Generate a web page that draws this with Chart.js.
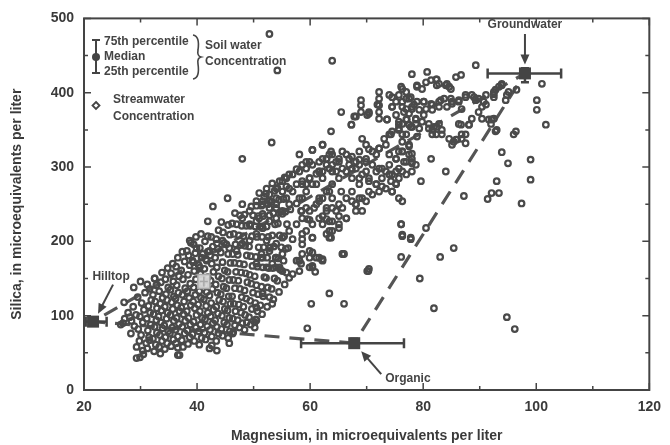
<!DOCTYPE html>
<html><head><meta charset="utf-8">
<script src="https://cdn.jsdelivr.net/npm/chart.js@4.4.1/dist/chart.umd.min.js"></script>
<style>html,body{margin:0;padding:0;background:#fff;}#wrap{width:670px;height:445px;position:relative;}</style>
</head><body><div id="wrap"><canvas id="c" width="670" height="445"></canvas></div>
<script>
// ---------- DATA ----------
const xTickValues = [20, 40, 60, 80, 100, 120];
const yTickValues = [0, 100, 200, 300, 400, 500];
const xTitle = 'Magnesium, in microequivalents per liter';
const yTitle = 'Silica, in microequivalents per liter';

// soil-water end members (median and 25th/75th percentiles)
const endMembers = ['Hilltop', 'Groundwater', 'Organic'];
const endMg      = [21.6, 98.0, 67.8];
const endMgLow   = [20.3, 91.4, 58.4];
const endMgHigh  = [24.0, 104.4, 76.6];
const endSi      = [92, 426, 63];
const endSiLow   = [88, 414, 58];
const endSiHigh  = [97, 433, 69];
const mixingOrder = [2, 0, 1, 2]; // Organic -> Hilltop -> Groundwater -> Organic
const lightMarker = [41.2, 146];

// streamwater concentrations [Mg, Si]
const streamLowerCluster = [
[26.5,88],[27.2,96],[27.8,104],[27.1,118],[28.3,76],[28.9,86],[28.4,93],[29.2,101],[28.7,112],[29.5,125],[28.8,138],
[29.3,58],[29.8,66],[30.1,74],[29.6,82],[30.4,91],[29.9,99],[30.6,108],[30.2,117],[30.8,131],[30.0,146],
[30.5,48],[31.2,56],[31.0,63],[31.5,71],[31.3,80],[31.8,88],[31.1,96],[31.7,104],[31.4,113],[31.9,121],[31.6,136],[31.2,142],
[32.4,52],[32.7,61],[32.2,69],[32.9,77],[32.5,85],[32.8,94],[32.3,102],[32.9,110],[32.6,119],[32.2,128],[32.8,141],[32.5,150],
[33.5,49],[33.3,58],[33.8,66],[33.4,74],[33.9,83],[33.6,91],[33.2,99],[33.7,107],[33.5,116],[33.9,124],[33.3,133],[33.6,145],[33.8,158],
[34.3,55],[34.7,63],[34.4,71],[34.9,79],[34.2,87],[34.6,96],[34.8,104],[34.3,112],[34.7,121],[34.5,129],[34.9,138],[34.4,149],[34.8,164],
[35.4,59],[35.8,68],[35.2,76],[35.6,84],[35.9,93],[35.3,101],[35.7,109],[35.5,118],[35.9,126],[35.3,135],[35.8,146],[35.4,157],[35.7,170],
[36.3,63],[36.6,72],[36.2,81],[36.8,89],[36.4,97],[36.9,106],[36.5,114],[36.2,123],[36.7,131],[36.4,141],[36.8,153],[36.3,166],[36.6,178],
[37.5,58],[37.3,67],[37.8,76],[37.4,85],[37.9,93],[37.6,102],[37.2,111],[37.7,119],[37.4,128],[37.9,137],[37.5,149],[37.2,161],[37.8,173],[37.4,186],
[38.4,62],[38.7,71],[38.3,80],[38.8,88],[38.5,97],[38.2,106],[38.9,114],[38.6,124],[38.3,133],[38.8,143],[38.4,155],[38.7,168],[38.5,181],[38.9,198],
[39.5,66],[39.2,75],[39.8,84],[39.4,92],[39.9,101],[39.6,110],[39.3,119],[39.7,128],[39.4,138],[39.8,149],[39.5,160],[39.3,172],[39.7,184],[39.4,196],[39.8,206],
[40.4,61],[40.8,70],[40.3,79],[40.6,88],[40.9,97],[40.5,106],[40.2,115],[40.7,124],[40.4,133],[40.9,143],[40.6,156],[40.3,168],[40.8,178],[40.5,191],[40.7,210],
[41.5,68],[41.3,77],[41.8,86],[41.4,95],[41.9,104],[41.6,113],[41.2,122],[41.7,132],[41.5,141],[41.9,152],[41.3,163],[41.6,176],[41.9,186],[41.4,200],
[42.6,72],[42.3,81],[42.8,90],[42.4,99],[42.9,108],[42.5,117],[42.2,127],[42.7,136],[42.4,147],[42.9,159],[42.6,170],[42.3,181],[42.8,193],[42.5,206],
[43.4,66],[43.8,76],[43.5,85],[43.2,94],[43.7,103],[43.4,112],[43.9,121],[43.6,131],[43.3,142],[43.8,153],[43.5,165],[43.2,178],[43.7,190],[43.4,203],[43.8,215],
[44.5,73],[44.3,82],[44.8,91],[44.4,100],[44.9,109],[44.6,119],[44.2,129],[44.7,139],[44.4,150],[44.9,161],[44.5,172],[44.2,185],[44.8,198],[44.6,212],[44.3,226],
[45.5,70],[45.8,79],[45.3,88],[45.7,97],[45.4,107],[45.9,116],[45.6,126],[45.2,137],[45.7,148],[45.4,159],[45.9,171],[45.5,183],[45.2,196],[45.8,209],[45.5,222],
[46.4,78],[46.7,87],[46.3,96],[46.8,106],[46.5,116],[46.2,126],[46.7,137],[46.4,148],[46.9,159],[46.6,171],[46.3,183],[46.8,196],[46.5,210],[46.2,224],[46.7,238],
[47.5,84],[47.2,94],[47.8,104],[47.4,115],[47.9,125],[47.6,136],[47.3,147],[47.8,158],[47.5,170],[47.2,182],[47.7,195],[47.4,208],[47.9,221],[47.6,235],
[48.4,81],[48.8,91],[48.5,101],[48.2,112],[48.7,123],[48.4,134],[48.9,145],[48.6,157],[48.3,169],[48.8,181],[48.5,194],[48.2,207],[48.7,221],[48.4,236],
[49.5,88],[49.2,98],[49.7,109],[49.4,120],[49.9,131],[49.6,143],[49.3,155],[49.8,167],[49.5,180],[49.2,193],[49.7,207],[49.4,221],[49.9,235],[49.6,247],
[50.4,95],[50.7,106],[50.3,117],[50.8,129],[50.5,141],[50.2,153],[50.7,166],[50.4,179],[50.9,192],[50.6,206],[50.3,220],[50.8,234],[50.5,248],
[51.5,102],[51.2,114],[51.7,126],[51.4,139],[51.9,152],[51.6,165],[51.3,178],[51.8,192],[51.5,206],[51.2,220],[51.7,234],[51.4,248],[51.9,260],
[52.4,112],[52.8,125],[52.5,138],[52.2,151],[52.7,164],[52.4,178],[52.9,192],[52.6,206],[52.3,220],[52.8,235],[52.5,250],[52.2,264],
[53.5,122],[53.2,136],[53.7,150],[53.4,164],[53.9,178],[53.6,193],[53.3,208],[53.8,223],[53.5,238],[53.2,253],[53.7,268],
[54.5,132],[54.2,147],[54.7,162],[54.4,177],[54.9,192],[54.6,208],[54.3,224],[54.8,240],[54.5,256],[54.2,272],
[55.5,142],[55.8,158],[55.3,174],[55.7,190],[55.4,207],[55.9,223],[55.6,240],[55.3,257],[55.8,274],[55.5,286]
];
const streamMidBand = [
[69.2,338],[69.9,330],[68.7,321],[70.4,324],[71.7,317],[72.2,325],[73.4,330],[74.0,317],[75.2,311],[76.3,321],[77.0,307],[78.0,311],[78.7,303],[75.7,298],[74.5,290],[73.4,294],[72.2,298],[71.0,303],[69.9,307],[68.7,310],[67.4,314],[66.4,317],[65.1,311],[63.9,317],[62.9,311],[61.6,307],[60.4,303],[59.3,298],[58.1,294],[56.9,290],[55.8,285],[54.6,281],[53.3,278],[52.3,271],[51.0,265],[65.7,298],[64.6,294],[63.4,298],[62.2,294],[61.1,291],[59.9,285],[58.6,281],[57.6,277],[56.3,271],[55.1,267],[54.0,258],[52.8,254],[51.6,250],[66.9,303],[68.1,298],[69.2,290],[70.4,281],[71.7,277],[72.7,274],[74.3,281],[75.2,277],[74.5,267],[75.7,285],[77.0,290],[78.0,294],
[61.6,254],[62.9,245],[62.2,234],[63.4,227],[63.9,214],[64.6,241],[65.7,245],[66.4,231],[67.4,254],[68.7,258],[69.2,241],[68.1,250],[65.1,218],[62.9,210],[60.4,205],[58.6,210],[56.9,203],[56.1,191],[55.1,183],[54.0,178],[53.3,170],[52.3,165],[54.6,165],[56.9,156],[59.9,165],[59.9,178],[61.6,178],[58.1,174],[65.8,183],[70.4,163],[76.1,223],[76.3,207],[77.8,205],[75.7,258],[76.3,254],[51.0,231],[51.6,218],[52.3,201],[52.8,191],[51.4,183],[59.9,229],[58.5,241],[57.6,251],[56.5,243],[55.1,237],[54.0,245],
[71.9,384],[73.6,364],[74.5,381],[77.0,378],[78.0,378],[78.7,365],[77.8,354],[75.7,357],[76.3,344],[74.3,344],[73.1,338],[67.3,357],[68.1,368],[70.1,370],[70.4,374],[65.5,374],[63.7,348],[62.2,330],[60.4,323],[58.1,317],[53.2,333],
[60.4,323],[62.2,330],[63.7,321],[65.7,321],[66.9,311],[68.1,307],[69.9,311],[71.0,321],[72.2,325],[74.0,344],[74.5,348],[75.7,350],[77.0,344],[77.5,330],[76.3,321],[75.2,311],[74.0,303],[72.7,298],[71.7,294],[70.4,285],[68.7,277],[67.4,267],[66.4,258],[65.1,250],[63.9,245],[62.9,241],[61.6,231],[60.4,223],[59.3,214],[62.2,223],[63.4,214],[65.1,223],[66.4,231],[68.1,250],[69.2,258],[70.4,267],[71.7,277],[72.7,285],[74.0,290],[75.2,294],[59.5,230],[60.4,205],[62.2,176],[65.7,183],[70.1,160],[58.4,170],[60.4,165],[58.6,196],[63.4,205],[77.5,317],[78.0,307],[75.2,278],[74.5,267],[73.4,271],[72.2,267],[71.0,263],[69.9,254],[68.1,241],[65.1,234],[63.9,227],[62.9,230],[60.7,245],[61.6,258],[62.9,267],[63.9,277],[65.1,285],[66.4,294],[67.4,298],[68.7,303],[61.6,294],[59.3,277],[58.6,258],[58.4,241],[59.3,245],[60.4,277],[62.9,311],[63.9,303],[65.1,307],[67.4,285],[68.7,285],[69.9,294],[63.9,258],[65.5,267],[59.3,307]
];
const streamBandEdge = [
[48.0,250],[49.3,241],[50.5,254],[51.6,254],[52.8,263],[54.0,271],[55.1,281],[56.3,290],[57.6,297],[58.6,303],[59.9,307],[62.2,311],[63.4,317],[64.6,307],[63.9,294],[62.2,285],[61.1,277],[59.3,267],[58.1,258],[56.3,250],[55.1,241],[54.0,231],[52.8,227],[51.6,218],[50.5,210],[49.3,201],[48.0,197],[47.0,187],[45.7,191],[44.5,201],[43.5,197],[42.2,187],[41.0,183],[39.9,191],[38.7,201],[38.2,187],[39.2,174],[40.5,165],[41.7,174],[48.0,231],[47.0,223],[49.3,223],[50.5,227],[51.6,237],[52.8,245],[54.0,250],[55.8,258],[56.9,267],[58.6,277],[59.9,285],[61.6,294],[62.9,303],[63.4,267],[62.2,258],[61.1,250],[59.9,241],[58.6,231],[57.6,223],[56.3,214],[55.1,205],[54.0,197],[52.8,187],[51.6,178],[50.5,170],
[54.0,165],[55.1,160],[56.3,151],[57.6,174],[58.6,183],[59.9,187],[61.1,178],[62.2,174],[51.6,130],[50.5,111],[50.5,94],[48.0,90],[46.3,76],[45.7,63],[42.2,56],[36.6,57],[36.6,47],[29.3,43],[30.4,53],[31.6,67],[26.9,90],[28.1,98]
];
const streamUpperBand = [
[76.1,408],[77.0,401],[75.7,397],[74.5,394],[74.0,397],[77.5,392],[76.3,388],[75.2,388],[78.4,384],[78.9,388],[80.1,388],[80.5,378],[81.6,384],[82.8,388],[83.7,392],[84.2,381],[85.1,388],[86.3,388],[86.8,378],[87.5,397],[88.6,397],[89.8,392],[91.1,397],[90.7,388],[92.5,401],[93.9,410],[95.1,401],[96.5,404],
[78.0,425],[80.7,428],[82.3,418],[80.5,414],[78.9,410],[82.4,410],[84.0,410],[85.8,421],[86.7,424],[84.9,405],[89.3,437],
[72.2,401],[72.2,392],[72.2,383],[72.2,374],[72.2,365],[69.0,390],[69.0,383],[69.0,374],[70.4,372],[67.8,368],[67.3,357],[73.6,364],[74.5,381],
[75.2,370],[75.7,361],[77.0,364],[77.5,357],[78.7,358],[79.8,361],[81.0,358],[81.6,350],[82.4,354],[83.3,344],[82.3,344],[84.6,338],[85.8,337],[86.8,344],[87.5,332],[85.1,330],[86.3,358],[88.1,357],[88.6,365],[90.4,365],[92.1,364],[92.0,358],[92.8,348],
[76.3,405],[77.0,392],[76.3,381],[78.0,381],[77.8,394],[77.5,372],[76.6,374],[79.3,377],[80.1,388],[81.4,385],[83.1,390],[82.8,381],[81.6,377],[80.1,370],[78.7,364],[79.3,352],[78.0,354],[77.1,364],[76.3,358],[75.7,352],[78.9,341],[77.5,328],[76.3,334],[75.7,321],[76.6,307],[78.0,305],[76.3,294],[78.0,318],[82.8,358],[83.3,350],[81.9,354],[81.0,352],[81.6,344],
[90.4,381],[89.8,374],[91.1,384],[89.3,390],[89.0,394],[87.5,394],[86.3,390],[84.9,392],[85.1,385],[86.7,357],[88.1,357],[87.5,344],[86.8,338],[86.0,337],[85.4,334],[92.5,365],[91.6,364],[93.0,350],[94.6,390],[94.8,397],[93.4,408],[93.9,412],[92.8,404],[92.5,398],[92.5,394],[96.4,348],[81.4,417],[82.4,418],[82.8,412],[78.9,408],[79.8,405],[84.6,408],[84.2,412]
];
const streamScattered = [
[52.8,479],[54.2,430],[63.9,443],[101.0,412],[100.1,390],[100.1,377],[101.7,357],[99.0,310],[99.0,283],[97.4,251],[93.0,281],[92.1,265],[93.4,265],[91.4,257],[93.9,320],[95.0,305],[96.0,344],[81.4,311],[84.0,294],[87.2,261],[79.6,281],[80.5,218],[76.1,223],[85.4,191],[83.0,179],[79.4,150],[81.9,110],[94.8,98],[96.2,82],[76.1,179],[70.3,160],[66.0,183],[63.4,130],[66.0,116],[60.2,116],[59.5,83],[48.0,311],[45.4,258],[42.8,247],[41.9,227],[41.9,207],[32.5,150],[53.3,116],[50.2,91],[50.2,84],[36.9,47],[42.6,60],[43.5,53],[29.9,44],[58.6,203],[60.4,185],[63.7,205],[76.3,209],[77.8,203],[58.1,174],[58.1,160],[62.1,175],[60.9,159],[60.4,167]
];

// ---------- DRAWING ----------
const INK = '#444444';
const FONT = '"Liberation Sans", Arial, Helvetica, sans-serif';
const toPts = arr => arr.map(p => ({x: p[0], y: p[1]}));
const allStream = [].concat(streamLowerCluster, streamMidBand, streamBandEdge, streamUpperBand, streamScattered);

function arrow(ctx, x1, y1, x2, y2) {
  const a = Math.atan2(y2 - y1, x2 - x1), L = 10, W = 4.5;
  ctx.beginPath(); ctx.moveTo(x1, y1);
  ctx.lineTo(x2 - Math.cos(a) * L * 0.8, y2 - Math.sin(a) * L * 0.8); ctx.stroke();
  ctx.beginPath(); ctx.moveTo(x2, y2);
  ctx.lineTo(x2 - L * Math.cos(a) + W * Math.sin(a), y2 - L * Math.sin(a) - W * Math.cos(a));
  ctx.lineTo(x2 - L * Math.cos(a) - W * Math.sin(a), y2 - L * Math.sin(a) + W * Math.cos(a));
  ctx.closePath(); ctx.fill();
}

const framePlugin = {
  id: 'frame',
  afterDatasetsDraw(chart) {
    const ctx = chart.ctx, xs = chart.scales.x, ys = chart.scales.y, a = chart.chartArea;
    ctx.save();
    // light soil marker
    const lx = xs.getPixelForValue(lightMarker[0]), ly = ys.getPixelForValue(lightMarker[1]);
    ctx.fillStyle = 'rgba(215,215,215,0.95)'; ctx.strokeStyle = '#a8a8a8'; ctx.lineWidth = 1.5;
    ctx.fillRect(lx - 6, ly - 7, 12, 14); ctx.strokeRect(lx - 6, ly - 7, 12, 14);
    ctx.beginPath(); ctx.moveTo(lx - 4, ly); ctx.lineTo(lx + 4, ly); ctx.moveTo(lx, ly - 5); ctx.lineTo(lx, ly + 5); ctx.stroke();
    ctx.strokeStyle = INK; ctx.fillStyle = INK;
    // end members with percentile bars
    for (let i = 0; i < endMembers.length; i++) {
      const px = xs.getPixelForValue(endMg[i]), py = ys.getPixelForValue(endSi[i]);
      const xl = xs.getPixelForValue(endMgLow[i]), xh = xs.getPixelForValue(endMgHigh[i]);
      const yl = ys.getPixelForValue(endSiLow[i]), yh = ys.getPixelForValue(endSiHigh[i]);
      ctx.lineWidth = 2.5;
      ctx.beginPath(); ctx.moveTo(xl, py); ctx.lineTo(xh, py); ctx.stroke();
      ctx.beginPath(); ctx.moveTo(xl, py - 5); ctx.lineTo(xl, py + 5); ctx.moveTo(xh, py - 5); ctx.lineTo(xh, py + 5); ctx.stroke();
      ctx.beginPath(); ctx.moveTo(px, yl); ctx.lineTo(px, yh); ctx.stroke();
      ctx.beginPath(); ctx.moveTo(px - 4, yl); ctx.lineTo(px + 4, yl); ctx.moveTo(px - 4, yh); ctx.lineTo(px + 4, yh); ctx.stroke();
      ctx.fillRect(px - 6, py - 6, 12, 12);
    }
    // frame
    ctx.lineWidth = 2;
    ctx.strokeRect(a.left, a.top, a.right - a.left, a.bottom - a.top);
    ctx.lineWidth = 1.5;
    ctx.beginPath();
    for (let v = 20; v <= 120; v += 10) {
      const p = xs.getPixelForValue(v), len = v % 20 === 0 ? 7 : 4;
      ctx.moveTo(p, a.bottom); ctx.lineTo(p, a.bottom - len);
      ctx.moveTo(p, a.top); ctx.lineTo(p, a.top + len);
    }
    for (let v = 0; v <= 500; v += 50) {
      const p = ys.getPixelForValue(v), len = v % 100 === 0 ? 7 : 4;
      ctx.moveTo(a.left, p); ctx.lineTo(a.left + len, p);
      ctx.moveTo(a.right, p); ctx.lineTo(a.right - len, p);
    }
    ctx.stroke();
    // annotations
    const gx = xs.getPixelForValue(endMg[1]), gy = ys.getPixelForValue(endSi[1]);
    const hx = xs.getPixelForValue(endMg[0]), hy = ys.getPixelForValue(endSi[0]);
    const ox = xs.getPixelForValue(endMg[2]), oy = ys.getPixelForValue(endSi[2]);
    ctx.font = 'bold 12px ' + FONT; ctx.textBaseline = 'middle'; ctx.textAlign = 'center';
    ctx.fillText('Groundwater', gx, 25);
    ctx.fillText('Hilltop', hx + 18, hy - 45);
    ctx.textAlign = 'left';
    ctx.fillText('Organic', ox + 31, oy + 36);
    ctx.lineWidth = 2;
    arrow(ctx, gx, 34, gx, gy - 9);
    arrow(ctx, hx + 20, hy - 37, hx + 5, hy - 8);
    arrow(ctx, ox + 27, oy + 31, ox + 7, oy + 8);
    // legend
    ctx.font = 'bold 12px ' + FONT; ctx.textAlign = 'left';
    ctx.lineWidth = 2;
    ctx.beginPath(); ctx.moveTo(96, 40); ctx.lineTo(96, 73);
    ctx.moveTo(92, 40); ctx.lineTo(100, 40); ctx.moveTo(92, 73); ctx.lineTo(100, 73); ctx.stroke();
    ctx.beginPath(); ctx.arc(96, 57, 4, 0, Math.PI * 2); ctx.fill();
    ctx.fillText('75th percentile', 104, 42);
    ctx.fillText('Median', 104, 57);
    ctx.fillText('25th percentile', 104, 72);
    ctx.lineWidth = 1.6;
    ctx.beginPath(); ctx.moveTo(193, 35);
    ctx.quadraticCurveTo(200, 36, 198, 50); ctx.quadraticCurveTo(197, 56, 201, 57);
    ctx.quadraticCurveTo(197, 58, 198, 64); ctx.quadraticCurveTo(200, 78, 193, 79); ctx.stroke();
    ctx.fillText('Soil water', 205, 46);
    ctx.fillText('Concentration', 205, 62);
    ctx.lineWidth = 1.8;
    ctx.beginPath(); ctx.moveTo(96, 102); ctx.lineTo(99.5, 105.5); ctx.lineTo(96, 109); ctx.lineTo(92.5, 105.5); ctx.closePath(); ctx.stroke();
    ctx.fillText('Streamwater', 113, 100);
    ctx.fillText('Concentration', 113, 117);
    ctx.restore();
  }
};

new Chart(document.getElementById('c'), {
  type: 'scatter',
  data: {
    datasets: [
      {
        label: 'Mixing lines',
        data: mixingOrder.map(i => ({x: endMg[i], y: endSi[i]})),
        showLine: true, pointRadius: 0, borderColor: '#555', borderWidth: 3.2,
        borderDash: [15, 10], fill: false, order: 2
      },
      {
        label: 'Streamwater Concentration',
        data: toPts(allStream),
        pointStyle: 'circle', pointRadius: 2.8, borderWidth: 2.2,
        borderColor: '#4a4a4a', backgroundColor: 'rgba(255,255,255,0)', order: 1
      }
    ]
  },
  options: {
    responsive: false, animation: false, devicePixelRatio: 1,
    layout: {padding: {top: 16, right: 19, left: 0, bottom: 0}},
    plugins: {legend: {display: false}, tooltip: {enabled: false}},
    scales: {
      x: {
        type: 'linear', min: 20, max: 120,
        afterBuildTicks: s => { s.ticks = xTickValues.map(v => ({value: v})); },
        afterFit: s => { s.height = 55; },
        grid: {display: false, drawTicks: false}, border: {display: false},
        ticks: {padding: 9, color: '#3a3a3a', font: {family: FONT, size: 14, weight: 'bold'}},
        title: {display: true, text: xTitle, color: '#3a3a3a', padding: {top: 4, bottom: 0}, font: {family: FONT, size: 14, weight: 'bold'}}
      },
      y: {
        type: 'linear', min: 0, max: 500,
        afterBuildTicks: s => { s.ticks = yTickValues.map(v => ({value: v})); },
        afterFit: s => { s.width = 84; },
        grid: {display: false, drawTicks: false}, border: {display: false},
        ticks: {padding: 10, color: '#3a3a3a', font: {family: FONT, size: 14, weight: 'bold'}},
        title: {display: true, text: yTitle, color: '#3a3a3a', padding: {top: 9, bottom: 0}, font: {family: FONT, size: 14, weight: 'bold'}}
      }
    }
  },
  plugins: [framePlugin]
});
</script></body></html>
